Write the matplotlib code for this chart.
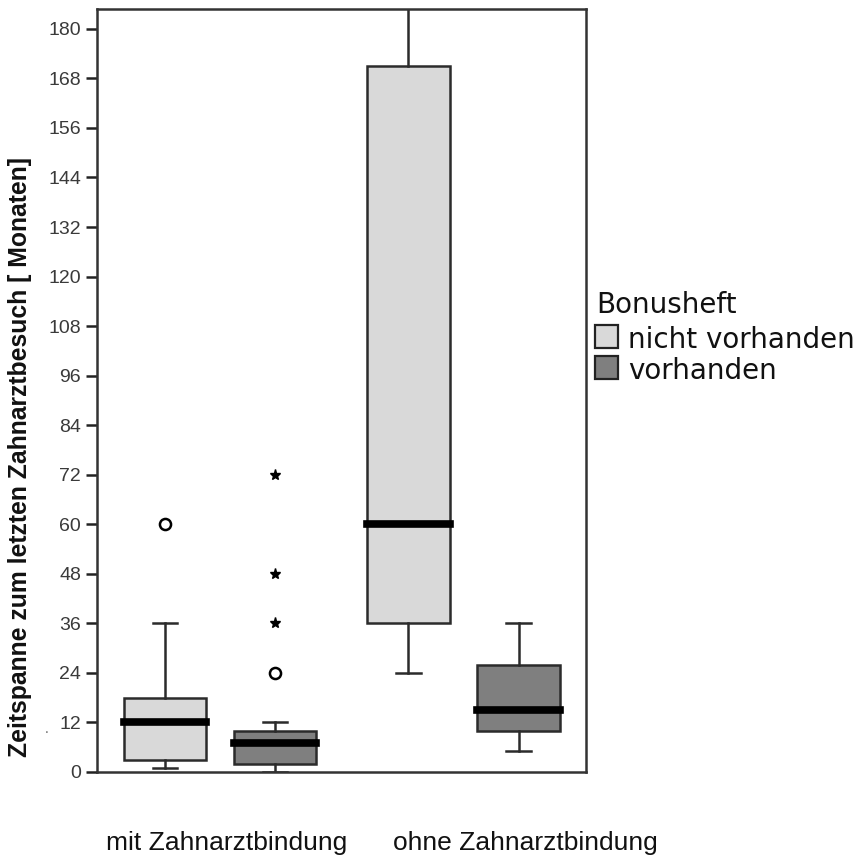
import matplotlib
matplotlib.use("Agg")
import matplotlib.pyplot as plt
from matplotlib.patches import Rectangle

# Data: time since last dental visit (months)
groups = ["mit Zahnarztbindung", "ohne Zahnarztbindung"]
series = ["nicht vorhanden", "vorhanden"]
legend_title = "Bonusheft"
colors = ["#d9d9d9", "#7f7f7f"]

# per box: (group index, series index)
box_keys = [(0, 0), (0, 1), (1, 0), (1, 1)]
q1 = [3, 2, 36, 10]
median = [12, 7, 60, 15]
q3 = [18, 10, 171, 26]
whisker_low = [1, 0, 24, 5]
whisker_high = [36, 12, 240, 36]
outliers_circle = [[60], [24], [], []]
outliers_star = [[], [36, 48, 72], [], []]

y_ticks = list(range(0, 181, 12))
y_label = "Zeitspanne zum letzten Zahnarztbesuch [ Monaten]"

W, H = 866, 860
fig = plt.figure(figsize=(W / 100, H / 100), dpi=100)
ax = fig.add_axes([97 / W, (H - 772) / H, (586 - 97) / W, (772 - 9) / H])

offset = 0.226
width = 0.34
edge = "#2b2b2b"

stats, positions = [], []
for i, (g, s) in enumerate(box_keys):
    stats.append(dict(q1=q1[i], med=median[i], q3=q3[i],
                      whislo=whisker_low[i], whishi=whisker_high[i],
                      fliers=[]))
    positions.append(g + 1 + (offset if s else -offset))

bp = ax.bxp(stats, positions=positions, widths=width, patch_artist=True,
            showfliers=False, capwidths=width * 0.3,
            boxprops=dict(linewidth=1.8, edgecolor=edge),
            whiskerprops=dict(linewidth=1.8, color=edge),
            capprops=dict(linewidth=1.8, color=edge),
            medianprops=dict(linewidth=5.5, color="black",
                             solid_capstyle="projecting"))
for patch, (g, s) in zip(bp["boxes"], box_keys):
    patch.set_facecolor(colors[s])

for i, pos in enumerate(positions):
    if outliers_circle[i]:
        ax.plot([pos] * len(outliers_circle[i]), outliers_circle[i], "o",
                mfc="white", mec="black", mew=1.8, ms=8, zorder=5)
    if outliers_star[i]:
        ax.plot([pos] * len(outliers_star[i]), outliers_star[i], "*",
                color="black", ms=8, zorder=5)

ax.set_xlim(0.495, 2.503)
ax.set_ylim(0, 184.8)
ax.set_yticks(y_ticks)
ax.set_yticklabels([str(t) for t in y_ticks], fontfamily="Liberation Sans",
                   fontsize=14, color="#3a3a3a")
ax.set_xticks([])
ax.tick_params(axis="y", direction="out", length=8, width=1.8,
               color="#222222", pad=3.5)
for sp in ax.spines.values():
    sp.set_linewidth(1.8)
    sp.set_color("#333333")

# group labels under the axis, starting at their left edges
label_left = [106, 393]
for name, xl in zip(groups, label_left):
    fig.text(xl / W, 1 - 843 / H, name, ha="left", va="center",
             fontfamily="Liberation Sans", fontsize=19, color="#111111")

fig.text(20 / W, 1 - 457 / H, y_label, rotation=90, ha="center", va="center",
         fontfamily="Liberation Sans", fontweight="bold", fontsize=17.8,
         color="#111111")
fig.text(47 / W, 1 - 729 / H, ".", ha="center", va="center",
         fontfamily="Liberation Sans", fontsize=10, color="#666666")

# legend
fig.text(596 / W, 1 - 313 / H, legend_title, ha="left", va="baseline",
         fontfamily="DejaVu Sans", fontsize=20, color="#111111")
for k, (name, col) in enumerate(zip(series, colors)):
    top = 325 + k * 31
    fig.patches.append(Rectangle((595 / W, 1 - (top + 23) / H), 23 / W, 23 / H,
                                 transform=fig.transFigure, facecolor=col,
                                 edgecolor="#222222", linewidth=1.6))
    fig.text(628 / W, 1 - (top + 23) / H, name, ha="left", va="baseline",
             fontfamily="DejaVu Sans", fontsize=20, color="#111111")

fig.savefig("out.png", dpi=100)
